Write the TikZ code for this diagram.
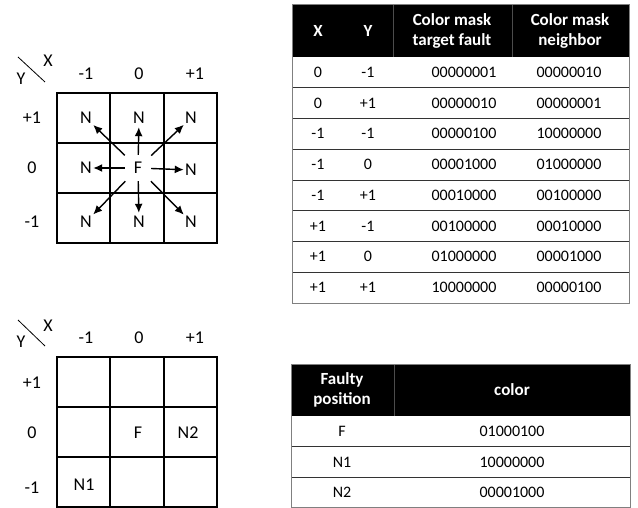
\documentclass[tikz,border=0pt]{standalone}
\usepackage{fontspec}
\setmainfont{Carlito}
\usetikzlibrary{arrows.meta}

\begin{document}
\begin{tikzpicture}[x=1pt,y=-1pt,
    cell/.style={line width=1.7pt},
    lbl/.style={font=\fontsize{18}{20}\selectfont},
    nb/.style={lbl,inner sep=0pt,minimum width=14pt,minimum height=18pt},
    ft/.style={lbl,inner sep=0pt,minimum size=26pt},
    arr/.style={-{Latex[length=9pt,width=8pt]},line width=1.4pt},
    hd/.style={text=white,font=\fontsize{17}{19.5}\selectfont\bfseries,align=center},
    td/.style={font=\fontsize{16}{18}\selectfont},
    rowline/.style={line width=0.9pt,black!80},
    colsep/.style={line width=0.8pt,gray!60!black},
    frame/.style={line width=1pt,gray}]
    \useasboundingbox (0,0) rectangle (638,508);

    % Upper grid: fault F with its eight neighbours
    \draw[cell] (57,93) rectangle (217,243);
    \foreach \i in {1,2} {
        \draw[cell] (57+53.33*\i,93) -- ++(0,150);
        \draw[cell] (57,93+50*\i) -- ++(160,0);
    }
    % Axis corner Y\X
    \draw[line width=0.8pt] (18,57) -- (45,82);
    \node[lbl] (cornXa) at (48,61) {X};
    \node[lbl] (cornYa) at (21,79) {Y};
    \foreach \px/\t [count=\k] in {86/-1,139/0,195/+1}
        \node[lbl] (colA\k) at (\px,74) {\t};
    \foreach \py/\t [count=\k] in {118/+1,168/0,222/-1}
        \node[lbl] (rowA\k) at (32,\py) {\t};
    \node[nb] (nNW) at (86,118) {N};
    \node[nb] (nN)  at (139,118) {N};
    \node[nb] (nNE) at (191,118) {N};
    \node[nb] (nW)  at (86,168) {N};
    \node[ft] (f)   at (138,168) {F};
    \node[nb] (nE)  at (191,170) {N};
    \node[nb] (nSW) at (86,222) {N};
    \node[nb] (nS)  at (139,222) {N};
    \node[nb] (nSE) at (191,222) {N};
    % Arrows from F to every neighbour
    \foreach \n in {nNW,nN,nNE,nW,nE,nSW,nS,nSE}
        \draw[arr] (f) -- (\n);

    % Upper table: colour masks
    \fill (292,5) rectangle (629,57);
    \draw[colsep] (393,5) -- (393,57);
    \draw[colsep] (512,5) -- (512,57);
    \node[hd] (hX) at (318,31) {X};
    \node[hd] (hY) at (368,31) {Y};
    \node[hd] (hT) at (452,31) {Color mask\\target fault};
    \node[hd] (hN) at (570,31) {Color mask\\neighbor};
    \foreach \r in {1,...,7}
        \draw[rowline] (292,57+30.75*\r) -- (629,57+30.75*\r);
    \draw[frame] (292,5) rectangle (629,303);
    \foreach \cx/\cy/\mt/\mn [count=\r] in {
        0/-1/00000001/00000010,
        0/+1/00000010/00000001,
        -1/-1/00000100/10000000,
        -1/0/00001000/01000000,
        -1/+1/00010000/00100000,
        +1/-1/00100000/00010000,
        +1/0/01000000/00001000,
        +1/+1/10000000/00000100} {
        \node[td] (tx\r) at (318,41.6+30.75*\r) {\cx};
        \node[td] (ty\r) at (368,41.6+30.75*\r) {\cy};
        \node[td] (tm\r) at (464,41.6+30.75*\r) {\mt};
        \node[td] (tn\r) at (569,41.6+30.75*\r) {\mn};
    }

    % Lower grid: example with F, N1 and N2
    \draw[cell] (57,357) rectangle (217,507);
    \foreach \i in {1,2} {
        \draw[cell] (57+53.33*\i,357) -- ++(0,150);
        \draw[cell] (57,357+50*\i) -- ++(160,0);
    }
    \draw[line width=0.8pt] (18,320) -- (45,346);
    \node[lbl] (cornXb) at (48,326) {X};
    \node[lbl] (cornYb) at (21,342) {Y};
    \foreach \px/\t [count=\k] in {86/-1,139/0,195/+1}
        \node[lbl] (colB\k) at (\px,338) {\t};
    \foreach \py/\t [count=\k] in {383/+1,433/0,488/-1}
        \node[lbl] (rowB\k) at (32,\py) {\t};
    \node[lbl] (fB)  at (138,433) {F};
    \node[lbl] (nTwo) at (188,433) {N2};
    \node[lbl] (nOne) at (84,485) {N1};

    % Lower table: resulting colours
    \fill (291,364) rectangle (630,416);
    \draw[colsep] (394,364) -- (394,416);
    \node[hd] (hF) at (342,390) {Faulty\\position};
    \node[hd] (hC) at (512,390) {color};
    \draw[rowline] (291,446.5) -- (630,446.5);
    \draw[rowline] (291,477) -- (630,477);
    \draw[frame] (291,364) rectangle (630,507);
    \foreach \p/\c [count=\r] in {F/01000100,N1/10000000,N2/00001000} {
        \node[td] (bp\r) at (342,401+30.5*\r) {\p};
        \node[td] (bc\r) at (512,401+30.5*\r) {\c};
    }
\end{tikzpicture}
\end{document}
